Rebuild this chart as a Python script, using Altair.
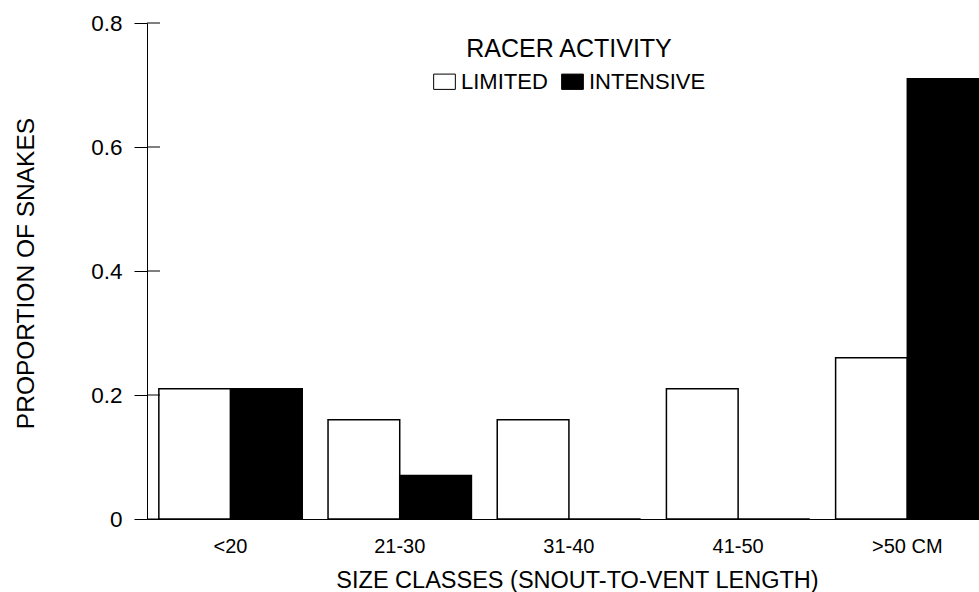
import altair as alt
import pandas as pd

# Size classes (snout-to-vent length) and proportion of snakes per racer activity level
size_classes = ["<20", "21-30", "31-40", "41-50", ">50 CM"]
limited = [0.21, 0.16, 0.16, 0.21, 0.26]
intensive = [0.21, 0.07, 0.0, 0.0, 0.71]
activity_levels = ["LIMITED", "INTENSIVE"]
y_ticks = [0, 0.2, 0.4, 0.6, 0.8]

rows = []
for cls, lim, inten in zip(size_classes, limited, intensive):
    rows.append({"size": cls, "activity": "LIMITED", "prop": lim})
    rows.append({"size": cls, "activity": "INTENSIVE", "prop": inten})
df = pd.DataFrame(rows)
ticks_df = pd.DataFrame({"tick": y_ticks})

FONT = "Liberation Sans"

y_scale = alt.Scale(domain=[0, 0.8], nice=False, zero=True)

bars = alt.Chart(df).mark_bar(stroke="black", strokeWidth=1.5).encode(
    x=alt.X(
        "size:N",
        sort=size_classes,
        scale=alt.Scale(paddingInner=0.1525, paddingOuter=0.035, align=1),
        axis=alt.Axis(
            title="SIZE CLASSES (SNOUT-TO-VENT LENGTH)",
            labelAngle=0,
            labelFontSize=20,
            labelPadding=17,
            ticks=False,
            tickSize=0,
            domain=True,
            domainColor="black",
            domainWidth=1,
            titleFontSize=23.5,
            titleFontWeight="normal",
            titleBaseline="alphabetic",
            titleX=430,
            titleY=68,
        ),
    ),
    xOffset=alt.XOffset(
        "activity:N",
        sort=activity_levels,
        scale=alt.Scale(paddingInner=0, paddingOuter=0),
    ),
    y=alt.Y(
        "prop:Q",
        stack=None,
        scale=y_scale,
        axis=alt.Axis(
            title="PROPORTION OF SNAKES",
            values=y_ticks,
            labelExpr="datum.value == 0 ? '0' : format(datum.value, '.1f')",
            labelFontSize=22.5,
            labelPadding=12,
            tickSize=13,
            tickColor="black",
            domainColor="black",
            grid=False,
            titleFontSize=24.5,
            titleFontWeight="normal",
            titleAngle=270,
            titleBaseline="alphabetic",
            titleX=-114,
            titleY=250,
        ),
    ),
    color=alt.Color(
        "activity:N",
        sort=activity_levels,
        scale=alt.Scale(domain=activity_levels, range=["white", "black"]),
        legend=alt.Legend(
            title="RACER ACTIVITY",
            orient="none",
            direction="horizontal",
            legendX=286,
            legendY=14,
            padding=0,
            titleFontSize=25,
            titleFontWeight="normal",
            titleAnchor="middle",
            titleLimit=1000,
            titlePadding=8,
            labelFontSize=22,
            labelLimit=1000,
            labelOffset=5,
            columnPadding=11,
            symbolType="M-1,-0.705H1V0.705H-1Z",
            symbolSize=471,
            symbolStrokeColor="black",
            symbolStrokeWidth=1,
            symbolOpacity=1,
        ),
    ),
)

# Inner half of the y-axis ticks, so they cross the axis line
inner_ticks = alt.Chart(ticks_df).mark_rule(color="black", strokeWidth=1).encode(
    y=alt.Y("tick:Q", scale=y_scale),
    x=alt.value(0),
    x2=alt.value(13),
)

chart = (
    alt.layer(bars, inner_ticks)
    .properties(
        width=832,
        height=496,
        autosize=alt.AutoSizeParams(type="none"),
        padding={"left": 147, "top": 23, "right": 0, "bottom": 73},
    )
    .configure(font=FONT)
    .configure_view(stroke=None)
    .configure_axis(labelColor="black", titleColor="black", labelFont=FONT, titleFont=FONT)
    .configure_legend(labelColor="black", titleColor="black", labelFont=FONT, titleFont=FONT)
)

chart.save("out.html", embed_options={"renderer": "svg", "actions": False})
